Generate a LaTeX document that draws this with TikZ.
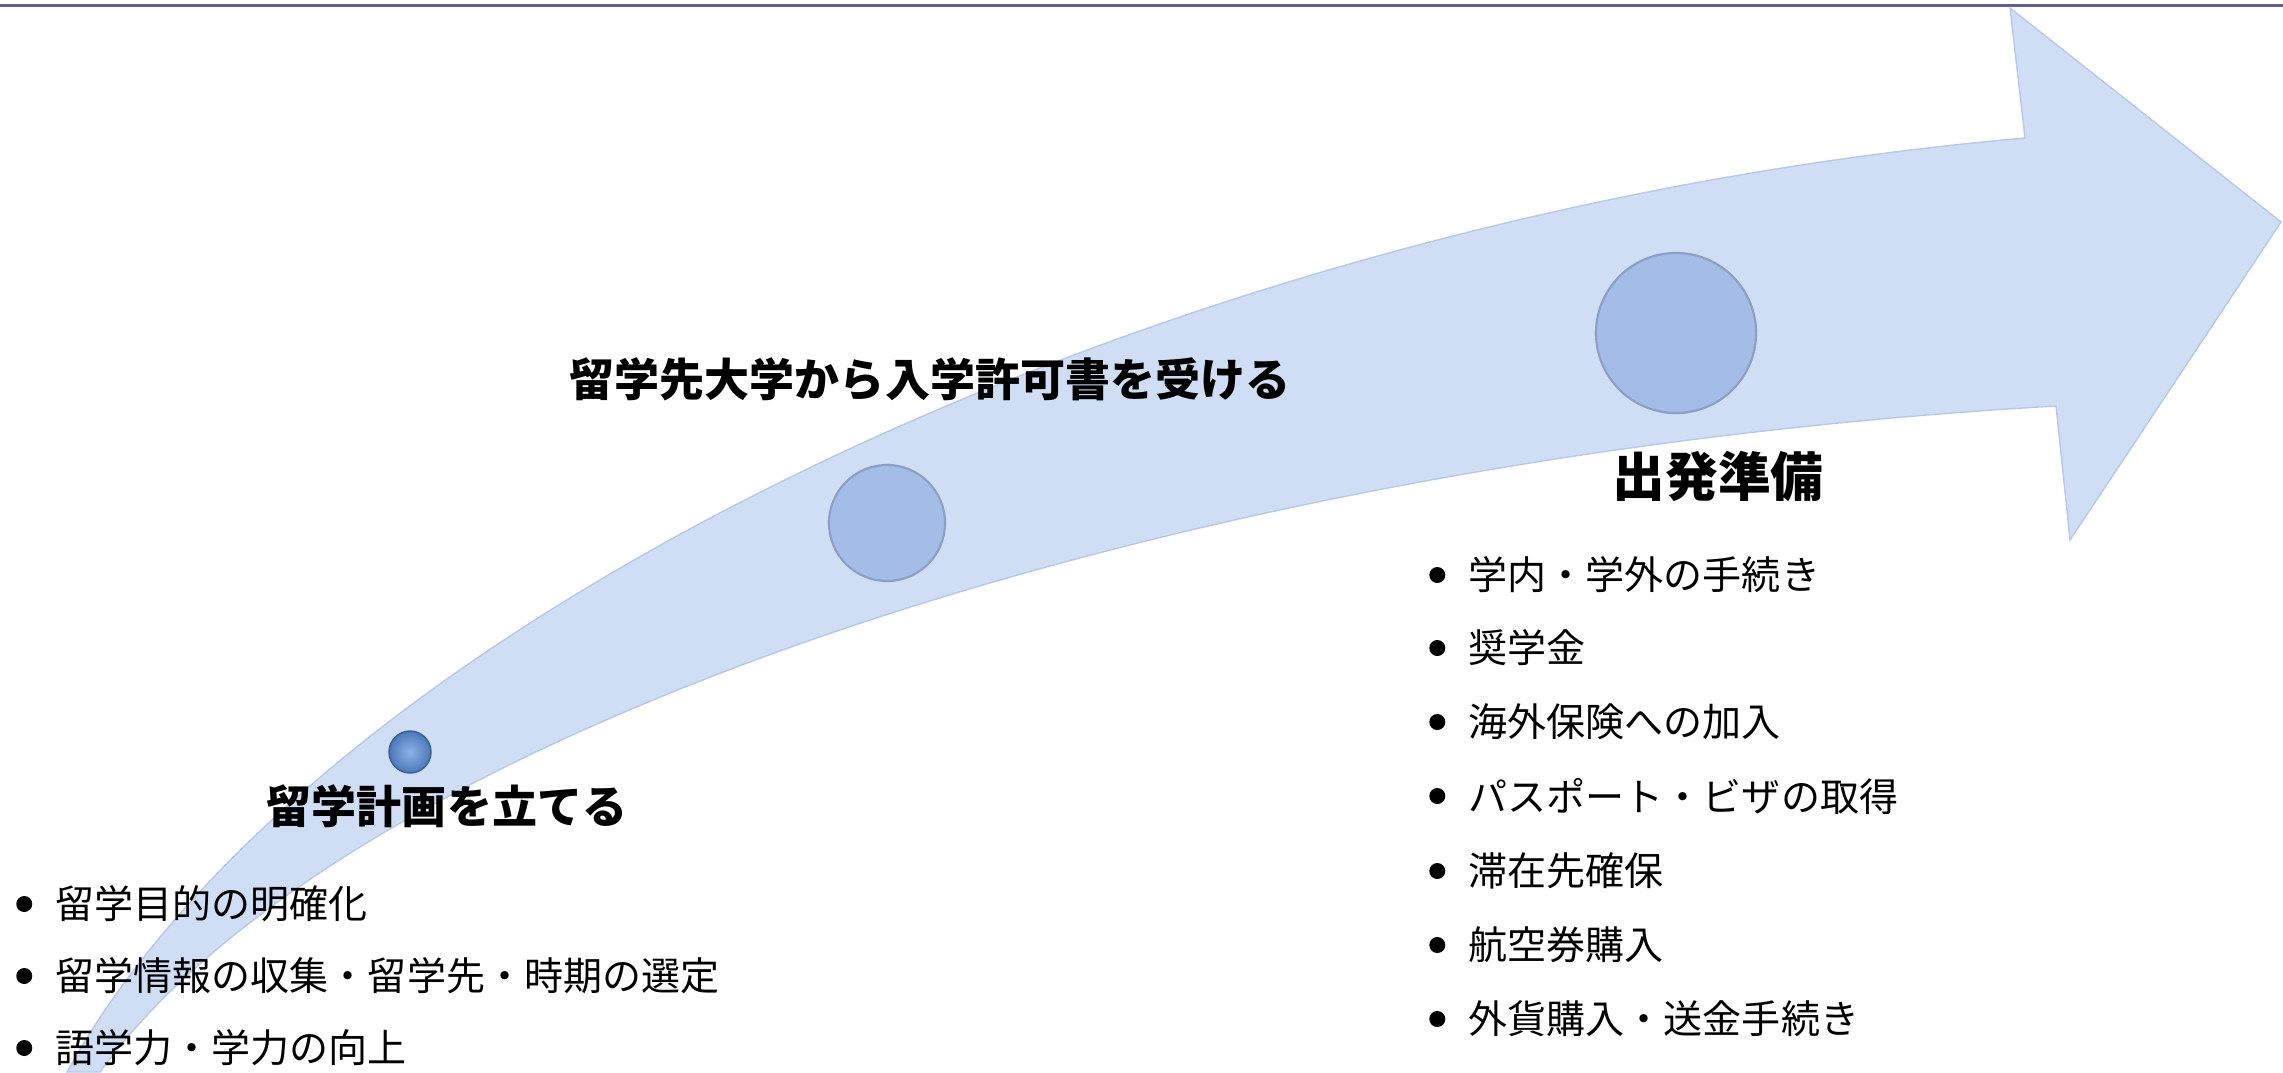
\documentclass[tikz,border=0pt]{standalone}
\usepackage{fontspec}
\setmainfont{Noto Sans CJK JP}
\definecolor{bandblue}{HTML}{CFDDF5}
\definecolor{bandedge}{HTML}{B9C8E6}
\definecolor{stopblue}{HTML}{A3BDE6}
\definecolor{stoprim}{HTML}{8C9EC3}
\definecolor{smallin}{HTML}{8DB4E8}
\definecolor{smallout}{HTML}{4A78B8}
\definecolor{topline}{HTML}{5F5E92}
\begin{document}
\begin{tikzpicture}[x=0.01cm,y=-0.01cm,
  stage/.style={circle,fill=stopblue,draw=stoprim,line width=0.6pt,inner sep=0pt},
  title/.style={inner sep=0pt,font=\bfseries\fontsize{12.8}{15}\selectfont},
  dotmark/.style={circle,fill=black,inner sep=0pt,minimum size=0.16cm},
  item/.style={anchor=west,inner sep=0pt,font=\fontsize{11.1}{13}\selectfont,
    label={[dotmark,label distance=0.22cm]180:{}}}]
  \useasboundingbox (0,0) rectangle (2283,1072);
  \draw[topline,line width=0.03cm] (0,5) -- (2283,5);
  % curved arrow
  \filldraw[fill=bandblue,draw=bandedge,line width=0.4pt]
    (67,1072) .. controls (310,630) and (1150,215) .. (2025,138) -- (2010,8) -- (2281,222)
    -- (2070,540) -- (2056,406) .. controls (1150,458) and (340,740) .. (100,1072) -- cycle;
  % stages on the arrow
  \node[circle,inner sep=0pt,minimum size=0.42cm,inner color=smallin,
    outer color=smallout,draw=smallout!80!black,line width=0.4pt] (plan) at (410,752) {};
  \path (887,523) node[stage,minimum size=1.16cm] (admit) {}
    (1676,333) node[stage,minimum size=1.6cm] (depart) {};
  % stage titles
  \node[title] (plantxt) at (447,806) {留学計画を立てる};
  \node[title] (admittxt) at (930,379) {留学先大学から入学許可書を受ける};
  \node[title,font=\bfseries\fontsize{15}{18}\selectfont] (departtxt) at (1718,476) {出発準備};
  % lists
  \path (55,904) node[item] (p1) {留学目的の明確化}
    (55,976) node[item] (p2) {留学情報の収集・留学先・時期の選定}
    (55,1048) node[item] (p3) {語学力・学力の向上};
  \path (1468,575) node[item] (d1) {学内・学外の手続き}
    (1468,648) node[item] (d2) {奨学金}
    (1468,722) node[item] (d3) {海外保険への加入}
    (1468,796) node[item] (d4) {パスポート・ビザの取得}
    (1468,871) node[item] (d5) {滞在先確保}
    (1468,945) node[item] (d6) {航空券購入}
    (1468,1019) node[item] (d7) {外貨購入・送金手続き};
\end{tikzpicture}
\end{document}
